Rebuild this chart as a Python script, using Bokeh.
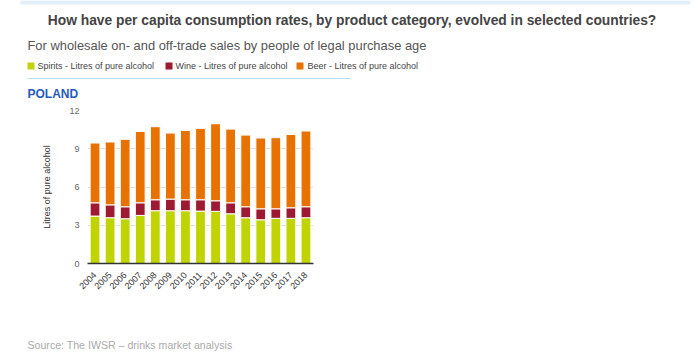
from bokeh.plotting import figure
from bokeh.models import FixedTicker, Range1d
from bokeh.core.properties import value
from bokeh.embed import file_html
from bokeh.resources import INLINE
import math

years = ["2004", "2005", "2006", "2007", "2008", "2009", "2010", "2011",
         "2012", "2013", "2014", "2015", "2016", "2017", "2018"]
spirits = [3.72, 3.59, 3.51, 3.77, 4.14, 4.14, 4.14, 4.11, 4.09, 3.90, 3.59, 3.43, 3.54, 3.54, 3.59]
wine = [1.04, 1.01, 0.94, 0.99, 0.86, 0.91, 0.86, 0.89, 0.83, 0.86, 0.86, 0.86, 0.75, 0.83, 0.86]
beer = [4.69, 4.93, 5.29, 5.60, 5.73, 5.18, 5.44, 5.60, 6.04, 5.78, 5.62, 5.55, 5.58, 5.75, 5.94]
series_names = ["Spirits - Litres of pure alcohol", "Wine - Litres of pure alcohol",
                "Beer - Litres of pure alcohol"]
y_ticks = [0, 3, 6, 9, 12]
title_text = "How have per capita consumption rates, by product category, evolved in selected countries?"
subtitle_text = "For wholesale on- and off-trade sales by people of legal purchase age"
country = "POLAND"
y_title = "Litres of pure alcohol"
source_text = "Source: The IWSR \u2013 drinks market analysis"

colors = ["#bfd400", "#9e1a32", "#e77200"]
FONT = "Liberation Sans"

W = 692
H_HEAD, H_CHART, H_FOOT = 102, 198, 54
FL, FR = 87, 313          # frame left / right (px)
FT, FB = 110, 263         # frame top / bottom (page px)


def blank_fig(h):
    f = figure(width=W, height=h, x_range=Range1d(0, W), y_range=Range1d(h, 0),
               x_axis_type=None, y_axis_type=None, output_backend="svg",
               toolbar_location=None, min_border=0)
    f.outline_line_color = None
    f.grid.visible = False
    return f


def txt(f, x, y, t, size, color, bold=False, align="left"):
    f.text(x=[x], y=[y], text=[t], text_font=value(FONT), text_font_size=size,
           text_color=color, text_font_style="bold" if bold else "normal",
           text_align=align, text_baseline="middle")


# ---------- header ----------
head = blank_fig(H_HEAD)
head.quad(left=[20], right=[690], top=[0], bottom=[4], fill_color="#e3eff8", line_color=None)
txt(head, 351.5, 20, title_text, "13.8px", "#444444", bold=True, align="center")
txt(head, 27, 45, subtitle_text, "12.9px", "#555555")
sq_x = [27, 165, 296]
lab_x = [37, 175, 307]
for c, n, sx, lx in zip(colors, series_names, sq_x, lab_x):
    head.quad(left=[sx], right=[sx + 7], top=[62], bottom=[69], fill_color=c, line_color=None)
    txt(head, lx, 65.5, n, "9px", "#444444")
head.segment(x0=[27], y0=[78], x1=[350], y1=[78], line_color="#b8dcf0", line_width=1)
txt(head, 27, 93, country, "12px", "#1f5bbf", bold=True)

# ---------- chart ----------
p = figure(x_range=years, y_range=(0, 12), width=W, height=H_CHART,
           output_backend="svg", toolbar_location=None,
           min_border_left=FL, min_border_right=W - FR,
           min_border_top=FT - H_HEAD, min_border_bottom=H_HEAD + H_CHART - FB)
p.x_range.range_padding = 0
p.outline_line_color = None

data = {"years": years, "spirits": spirits, "wine": wine, "beer": beer}
p.vbar_stack(["spirits", "wine", "beer"], x="years", width=0.65, source=data,
             color=colors, line_color="white", line_width=1)

p.yaxis.ticker = FixedTicker(ticks=y_ticks)
p.yaxis.axis_line_color = None
p.yaxis.major_tick_line_color = None
p.yaxis.minor_tick_line_color = None
p.yaxis.major_tick_out = 0
p.yaxis.major_label_standoff = 8
p.yaxis.major_label_text_font = FONT
p.yaxis.major_label_text_font_size = "9px"
p.yaxis.major_label_text_color = "#666666"
p.yaxis.axis_label = y_title
p.yaxis.axis_label_text_font = FONT
p.yaxis.axis_label_text_font_size = "9px"
p.yaxis.axis_label_text_font_style = "normal"
p.yaxis.axis_label_text_color = "#333333"
p.yaxis.axis_label_standoff = 14

p.xaxis.axis_line_color = "#333333"
p.xaxis.axis_line_width = 1.5
p.xaxis.major_tick_line_color = None
p.xaxis.minor_tick_line_color = None
p.xaxis.major_label_orientation = math.pi / 4
p.xaxis.major_label_standoff = 4
p.xaxis.major_label_text_font = FONT
p.xaxis.major_label_text_font_size = "9px"
p.xaxis.major_label_text_color = "#333333"

p.xgrid.grid_line_color = None
p.ygrid.grid_line_color = "#dddddd"
p.ygrid.grid_line_width = 1

# ---------- footer ----------
foot = blank_fig(H_FOOT)
txt(foot, 27, 44, source_text, "10.6px", "#aaaaaa")

open("out.html", "w").write(file_html([head, p, foot], INLINE))
